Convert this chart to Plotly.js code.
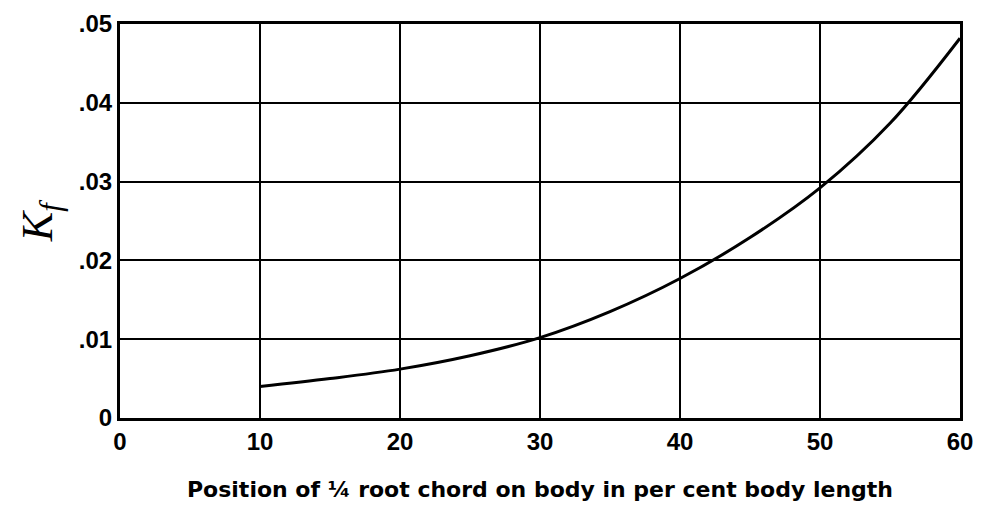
<!DOCTYPE html>
<html><head><meta charset="utf-8">
<script src="https://cdn.plot.ly/plotly-3.0.1.min.js"></script>
<style>html,body{margin:0;padding:0;background:#fff}#c{width:985px;height:518px}</style>
</head><body><div id="c"></div>
<script>
const positions = [10, 15, 20, 25, 30, 35, 40, 45, 50, 55, 60];
const kf = [0.0040, 0.0050, 0.0062, 0.0079, 0.0102, 0.0135, 0.0177, 0.0229, 0.0292, 0.0374, 0.0482];
const xTicks = [0, 10, 20, 30, 40, 50, 60];
const yTicks = [0, 0.01, 0.02, 0.03, 0.04, 0.05];
const yTickLabels = ['0', '.01', '.02', '.03', '.04', '.05'];
const xTitle = 'Position of ¼ root chord on body in per cent body length';
const yTitle = '<i>K<sub>f</sub></i>';

const trace = {x: positions, y: kf, mode: 'lines', line: {color: '#000', width: 3, shape: 'spline', smoothing: 1}, hoverinfo: 'skip'};
const tickFont = {family: 'Liberation Sans Narrow, Liberation Sans, Arial', size: 24, color: '#000', weight: 'bold'};
const layout = {
  width: 985, height: 518,
  margin: {l: 120, r: 25, t: 24, b: 100},
  paper_bgcolor: '#fff', plot_bgcolor: '#fff',
  showlegend: false,
  xaxis: {
    range: [0, 60], tickvals: xTicks, ticktext: xTicks.map(String),
    showgrid: true, gridcolor: '#000', gridwidth: 2,
    zeroline: false, showline: true, linecolor: '#000', linewidth: 3, mirror: true,
    ticks: '', ticklen: 0, tickfont: tickFont,
    title: {text: xTitle, standoff: 28,
      font: {family: 'DejaVu Sans, Liberation Sans', size: 22, color: '#000', weight: 'bold'}}
  },
  yaxis: {
    range: [0, 0.05], tickvals: yTicks, ticktext: yTickLabels,
    showgrid: true, gridcolor: '#000', gridwidth: 2,
    zeroline: false, showline: true, linecolor: '#000', linewidth: 3, mirror: true,
    ticks: '', ticklen: 0, tickfont: tickFont
  },
  annotations: [{
    text: yTitle, xref: 'paper', yref: 'paper', x: -0.095, y: 0.5,
    xanchor: 'center', yanchor: 'middle', textangle: -90, showarrow: false,
    font: {family: 'Liberation Serif, DejaVu Serif, serif', size: 44, color: '#000'}
  }]
};
Plotly.newPlot('c', [trace], layout, {displayModeBar: false, staticPlot: true});
</script></body></html>
